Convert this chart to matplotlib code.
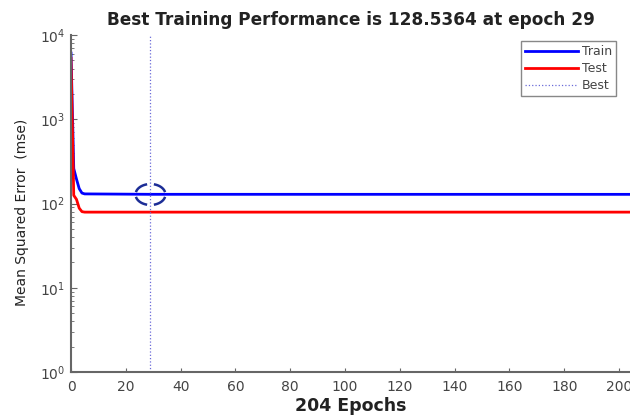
import numpy as np
import matplotlib
matplotlib.use("Agg")
import matplotlib.pyplot as plt
from matplotlib.path import Path

# --- datos ---
epocas_train = [0, 1, 2, 3, 4, 5, 29, 204]
mse_train = [6100, 260, 195, 150, 133, 130, 128.5364, 128.4]
epocas_test = [0, 1, 2, 3, 4, 5, 204]
mse_test = [5300, 125, 112, 88, 80, 79, 79]
mejor_epoca = 29
mejor_mse = 128.5364
xticks = [0, 20, 40, 60, 80, 100, 120, 140, 160, 180, 200]

plt.rcParams['font.family'] = ['DejaVu Sans']
plt.rcParams['mathtext.fontset'] = 'dejavusans'

# circulo discontinuo (como el de MATLAB) hecho con arcos
def marcador_circulo_discontinuo(aspecto=0.7):
    verts, codes = [], []
    for centro in [45, 135, 225, 315]:
        ang = np.radians(np.linspace(centro - 32, centro + 32, 12))
        for k, a in enumerate(ang):
            verts.append((0.5 * np.cos(a), 0.5 * aspecto * np.sin(a)))
            codes.append(Path.MOVETO if k == 0 else Path.LINETO)
    return Path(verts, codes)

fig = plt.figure(figsize=(6.3, 4.17), dpi=100)
ax = fig.add_axes([71 / 630, 45 / 417, 559 / 630, 337 / 417])

gris = '#444444'
ax.semilogy(epocas_train, mse_train, color=(0, 0, 1), lw=2.0, label='Train')
ax.semilogy(epocas_test, mse_test, color=(1, 0, 0), lw=2.0, label='Test')
ax.axvline(mejor_epoca, color='#6a6ad8', lw=0.9, ls=':', label='Best')
ax.plot([mejor_epoca], [mejor_mse], ls='none', marker=marcador_circulo_discontinuo(),
        markersize=21, markerfacecolor='none', markeredgecolor='#1c2d96', markeredgewidth=1.8)

ax.set_xlim(0, 204)
ax.set_ylim(1, 1e4)
ax.set_xticks(xticks)

for lado in ['top', 'right']:
    ax.spines[lado].set_visible(False)
for lado in ['left', 'bottom']:
    ax.spines[lado].set_color('#666666')
    ax.spines[lado].set_linewidth(1.5)

ax.tick_params(which='both', direction='in', colors='#666666', labelcolor=gris, labelsize=10)
ax.tick_params(axis='x', which='major', length=3, pad=6)
ax.tick_params(axis='y', which='major', length=4, pad=4)
ax.tick_params(axis='y', which='minor', length=2)

ax.set_title('Best Training Performance is 128.5364 at epoch 29', fontsize=12.2,
             fontweight='bold', color='#222222', pad=7)
ax.set_xlabel('204 Epochs', fontsize=12.5, fontweight='bold', color='#222222', labelpad=2)
ax.set_ylabel('Mean Squared Error  (mse)', fontsize=10, color='#222222')
ax.yaxis.set_label_coords(-0.075, 0.475)

leg = ax.legend(loc='upper right', bbox_to_anchor=(0.975, 0.982), borderaxespad=0,
                fontsize=9, handlelength=4.2, handletextpad=0.3, labelspacing=0.3,
                fancybox=False, framealpha=1, borderpad=0.35)
leg.get_frame().set_edgecolor('#888888')
leg.get_frame().set_linewidth(1.0)
for t in leg.get_texts():
    t.set_color(gris)

fig.savefig('out.png', dpi=100)
